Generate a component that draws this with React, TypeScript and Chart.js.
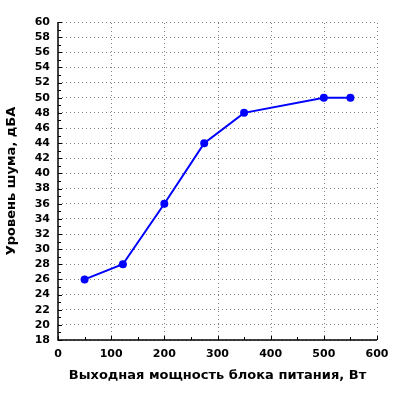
import React, { useEffect, useRef } from "react";
import { Chart, registerables } from "chart.js";

Chart.register(...registerables);

const powerW = [50, 122, 200, 275, 350, 500, 550];
const noiseDb = [26, 28, 36, 44, 48, 50, 50];
const xTickValues = [0, 100, 200, 300, 400, 500, 600];
const yTickValues = [18, 20, 22, 24, 26, 28, 30, 32, 34, 36, 38, 40, 42, 44, 46, 48, 50, 52, 54, 56, 58, 60];
const xTitle = "Выходная мощность блока питания, Вт";
const yTitle = "Уровень шума, дБА";
const FONT = "'DejaVu Sans', Verdana, sans-serif";

const customGrid = {
  id: "customGrid",
  beforeDatasetsDraw(chart: any) {
    const ctx = chart.ctx;
    const x = chart.scales.x;
    const area = chart.chartArea;
    ctx.save();
    ctx.strokeStyle = "#808080";
    ctx.lineWidth = 1;
    ctx.setLineDash([1, 3]);
    ctx.beginPath();
    for (const v of xTickValues) {
      if (v === xTickValues[0]) continue;
      const px = Math.round(x.getPixelForValue(v)) + 0.5;
      ctx.moveTo(px, area.bottom);
      ctx.lineTo(px, area.top);
    }
    ctx.stroke();
    ctx.restore();
  },
  afterDraw(chart: any) {
    const ctx = chart.ctx;
    const x = chart.scales.x;
    const y = chart.scales.y;
    const area = chart.chartArea;
    ctx.save();
    ctx.strokeStyle = "#000";
    ctx.lineWidth = 1;
    ctx.beginPath();
    for (let i = 0; i < xTickValues.length; i++) {
      const v = xTickValues[i];
      const px = Math.round(x.getPixelForValue(v)) + 0.5;
      ctx.moveTo(px, area.bottom);
      ctx.lineTo(px, area.bottom - 4);
      if (i < xTickValues.length - 1) {
        const mid = (v + xTickValues[i + 1]) / 2;
        const pm = Math.round(x.getPixelForValue(mid)) + 0.5;
        ctx.moveTo(pm, area.bottom);
        ctx.lineTo(pm, area.bottom - 3);
      }
    }
    for (let i = 0; i < yTickValues.length; i++) {
      const v = yTickValues[i];
      const py = Math.round(y.getPixelForValue(v)) + 0.5;
      ctx.moveTo(area.left, py);
      ctx.lineTo(area.left + 4, py);
      if (i < yTickValues.length - 1) {
        const mid = (v + yTickValues[i + 1]) / 2;
        const pm = Math.round(y.getPixelForValue(mid)) + 0.5;
        ctx.moveTo(area.left, pm);
        ctx.lineTo(area.left + 3, pm);
      }
    }
    ctx.stroke();
    ctx.lineWidth = 1.5;
    ctx.beginPath();
    ctx.moveTo(area.left, area.top);
    ctx.lineTo(area.left, area.bottom);
    ctx.lineTo(area.right, area.bottom);
    ctx.stroke();
    ctx.restore();
  },
};

export default function App() {
  const ref = useRef<HTMLCanvasElement | null>(null);
  useEffect(() => {
    document.body.style.margin = "0";
    const chart = new Chart(ref.current as HTMLCanvasElement, {
      type: "line",
      data: {
        datasets: [
          {
            data: powerW.map((p, i) => ({ x: p, y: noiseDb[i] })),
            borderColor: "#0000ff",
            backgroundColor: "#0000ff",
            borderWidth: 2,
            pointRadius: 4,
            pointBackgroundColor: "#0000ff",
            pointBorderWidth: 0,
            tension: 0,
          },
        ],
      },
      options: {
        animation: false,
        responsive: false,
        layout: { padding: { top: 22, right: 23, left: 0, bottom: 0 } },
        plugins: { legend: { display: false }, tooltip: { enabled: false } },
        scales: {
          x: {
            type: "linear",
            min: 0,
            max: 600,
            afterBuildTicks: (s: any) => {
              s.ticks = xTickValues.map((v) => ({ value: v }));
            },
            afterFit: (s: any) => {
              s.height = 60;
            },
            ticks: {
              autoSkip: false,
              color: "#000",
              font: { family: FONT, size: 11, weight: "bold" },
              padding: 8,
              maxRotation: 0,
            },
            border: { display: false },
            grid: {
              display: true,
              color: "rgba(0,0,0,0)",
              drawOnChartArea: false,
              drawTicks: false,
              tickLength: 0,
            },
            title: {
              display: true,
              text: xTitle,
              color: "#000",
              font: { family: FONT, size: 13, weight: "bold" },
              padding: { top: 4, bottom: 17 },
            },
          },
          y: {
            type: "linear",
            min: 18,
            max: 60,
            afterBuildTicks: (s: any) => {
              s.ticks = yTickValues.map((v) => ({ value: v }));
            },
            afterFit: (s: any) => {
              s.width = 58;
            },
            ticks: {
              autoSkip: false,
              color: "#000",
              font: { family: FONT, size: 11, weight: "bold" },
              padding: 8,
            },
            border: { display: false, dash: [1, 3] },
            grid: {
              color: "#808080",
              lineWidth: 1,
              drawTicks: false,
              tickLength: 0,
            },
            title: {
              display: true,
              text: yTitle,
              color: "#000",
              font: { family: FONT, size: 13, weight: "bold" },
              padding: { top: 4, bottom: 4 },
            },
          },
        },
      },
      plugins: [customGrid],
    } as any);
    return () => chart.destroy();
  }, []);
  return (
    <div style={{ width: 400, height: 400 }}>
      <canvas ref={ref} width={400} height={400} style={{ width: 400, height: 400 }} />
    </div>
  );
}
